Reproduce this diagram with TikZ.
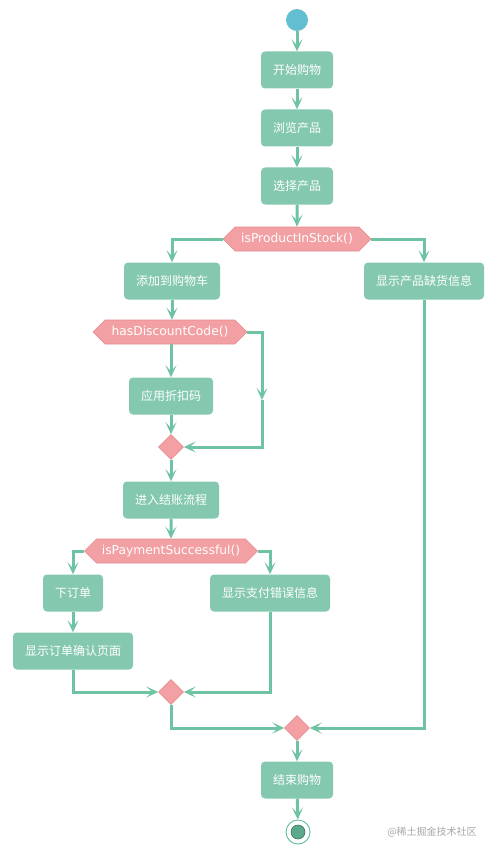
\documentclass[tikz,border=0pt]{standalone}
\usepackage{fontspec}
\newfontfamily\cjk{Noto Sans CJK SC}
\newfontfamily\lat{DejaVu Sans}
\usetikzlibrary{arrows.meta,shapes.geometric,shapes.symbols}
\definecolor{boxfill}{RGB}{132,200,175}
\definecolor{linec}{RGB}{110,195,163}
\definecolor{hexfill}{RGB}{242,160,163}
\definecolor{hexdraw}{RGB}{232,140,145}
\definecolor{startc}{RGB}{100,190,210}
\definecolor{endc}{RGB}{92,168,138}
\tikzset{
  act/.style={rectangle, rounded corners=4pt, fill=boxfill, draw=none, text=white,
    font=\cjk\fontsize{12}{14}\selectfont, minimum height=37pt, inner xsep=12pt, inner ysep=0pt},
  hexa/.style={signal, signal to=west and east, signal pointer angle=90, fill=hexfill,
    draw=hexdraw, line width=0.6pt, text=white, font=\lat\fontsize{12.3}{14}\selectfont,
    minimum height=24pt, inner sep=0pt},
  merge/.style={diamond, fill=hexfill, draw=hexdraw, line width=0.6pt, minimum width=25pt,
    minimum height=25pt, inner sep=0pt},
  flow/.style={draw=linec, line width=3pt, -{Stealth[length=12pt,width=11pt,inset=6pt]}},
}
\begin{document}
\begin{tikzpicture}[x=1pt,y=-1pt]
\useasboundingbox (0,0) rectangle (495,853);
\node[circle, fill=startc, minimum size=22pt, inner sep=0] (start) at (297,20) {};
\node[act] (b1) at (297,70) {开始购物};
\node[act] (b2) at (297,128) {浏览产品};
\node[act] (b3) at (297,186) {选择产品};
\node[hexa, minimum width=148pt] (h1) at (297,239) {isProductInStock()};
\node[act] (b4) at (172,281) {添加到购物车};
\node[act] (b5) at (424,281) {显示产品缺货信息};
\node[hexa, minimum width=154pt] (h2) at (170,332) {hasDiscountCode()};
\node[act] (b6) at (171,396) {应用折扣码};
\node[merge] (d1) at (171,447) {};
\coordinate (c1) at (262,400);
\node[act] (b7) at (171,500) {进入结账流程};
\node[hexa, minimum width=173pt] (h3) at (171,551) {isPaymentSuccessful()};
\node[act] (b8) at (73,593) {下订单};
\node[act] (b9) at (270,593) {显示支付错误信息};
\node[act] (b10) at (73,651) {显示订单确认页面};
\node[merge] (d2) at (171,692) {};
\node[merge] (d3) at (297,728) {};
\node[act] (b11) at (297,780) {结束购物};
\node[circle, draw=linec, fill=white, line width=1pt, minimum size=24pt, inner sep=0] (stop) at (298,832) {};
\node[circle, draw=endc!70!black, fill=endc, line width=0.6pt, minimum size=14pt, inner sep=0] (stopin) at (stop.center) {};
\node[text=black!35, font=\cjk\fontsize{10}{12}\selectfont] (wm) at (432,832) {@稀土掘金技术社区};

\draw[flow] (start) -- (b1);
\draw[flow] (b1) -- (b2);
\draw[flow] (b2) -- (b3);
\draw[flow] (b3) -- (h1);
\draw[flow] (h1.west) -| (b4.north);
\draw[flow] (h1.east) -| (b5.north);
\draw[flow] (b4) -- (h2.north -| b4.south);
\draw[flow] (h2.south -| b6.north) -- (b6);
\draw[flow] (b6) -- (d1);
\draw[flow] (h2.east) -| (c1);
\draw[flow] (c1) |- (d1.east);
\draw[flow] (d1) -- (b7);
\draw[flow] (b7) -- (h3);
\draw[flow] (h3.west) -| (b8.north);
\draw[flow] (h3.east) -| (b9.north);
\draw[flow] (b8) -- (b10);
\draw[flow] (b10.south) |- (d2.west);
\draw[flow] (b9.south) |- (d2.east);
\draw[flow] (d2.south) |- (d3.west);
\draw[flow] (b5.south) |- (d3.east);
\draw[flow] (d3) -- (b11);
\draw[flow] (b11) -- (stop);
\end{tikzpicture}
\end{document}
